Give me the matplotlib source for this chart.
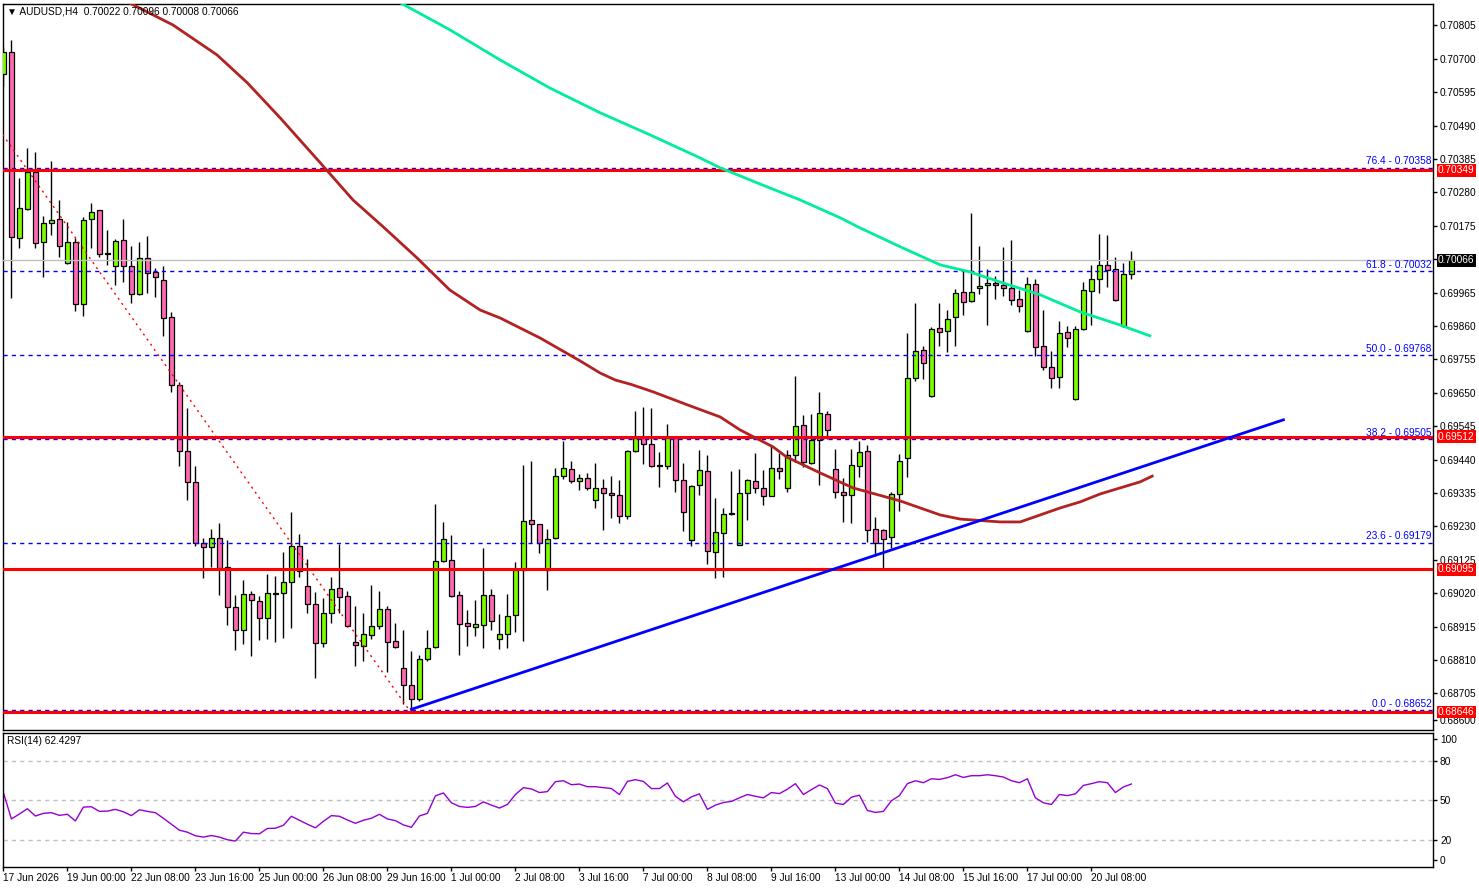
import matplotlib
matplotlib.use("Agg")
import matplotlib.pyplot as plt
import matplotlib.transforms as mtrans

plt.rcParams['font.family'] = ['Liberation Sans', 'DejaVu Sans']

# ---- data (AUDUSD H4) ----
opens = [0.70652, 0.70722, 0.70136, 0.70227, 0.70343, 0.70123, 0.70183, 0.70195, 0.70057, 0.70123,
         0.69928, 0.70195, 0.70224, 0.70087, 0.70050, 0.70130, 0.70048, 0.69960, 0.70074, 0.70029,
         0.70004, 0.69887, 0.69674, 0.69466, 0.69369, 0.69178, 0.69164, 0.69193, 0.69101, 0.68976,
         0.68903, 0.69016, 0.68995, 0.68941, 0.69018, 0.69020, 0.69054, 0.69169, 0.69042, 0.68985,
         0.68862, 0.68957, 0.69035, 0.69010, 0.68866, 0.68853, 0.68888, 0.68916, 0.68969, 0.68869,
         0.68784, 0.68733, 0.68686, 0.68812, 0.68850, 0.69120, 0.69123, 0.69013, 0.68925, 0.68915,
         0.68919, 0.69013, 0.68875, 0.68891, 0.68950, 0.69092, 0.69249, 0.69237, 0.69092, 0.69193,
         0.69388, 0.69410, 0.69372, 0.69381, 0.69312, 0.69350, 0.69334, 0.69328, 0.69264, 0.69466,
         0.69507, 0.69488, 0.69420, 0.69419, 0.69507, 0.69375, 0.69186, 0.69359, 0.69403, 0.69149,
         0.69208, 0.69268, 0.69172, 0.69334, 0.69372, 0.69350, 0.69325, 0.69413, 0.69350, 0.69454,
         0.69548, 0.69428, 0.69501, 0.69582, 0.69410, 0.69337, 0.69328, 0.69419, 0.69466, 0.69221,
         0.69219, 0.69196, 0.69332, 0.69445, 0.69696, 0.69784, 0.69639, 0.69853, 0.69843, 0.69887,
         0.69966, 0.69938, 0.69978, 0.69988, 0.69994, 0.69988, 0.69979, 0.69944, 0.69843, 0.69991,
         0.69796, 0.69730, 0.69699, 0.69840, 0.69630, 0.69850, 0.69969, 0.70007, 0.70051, 0.70038,
         0.69859, 0.70022]
highs = [0.70738, 0.70759, 0.70324, 0.70419, 0.70406, 0.70205, 0.70379, 0.70256, 0.70186, 0.70136,
         0.70202, 0.70247, 0.70225, 0.70162, 0.70134, 0.70196, 0.70111, 0.70124, 0.70143, 0.70041,
         0.70049, 0.69904, 0.69684, 0.69602, 0.69420, 0.69193, 0.69222, 0.69240, 0.69187, 0.69014,
         0.69061, 0.69027, 0.69011, 0.69079, 0.69074, 0.69150, 0.69275, 0.69205, 0.69128, 0.69023,
         0.69004, 0.69070, 0.69175, 0.69027, 0.68979, 0.68957, 0.69045, 0.69026, 0.68979, 0.68925,
         0.68903, 0.68837, 0.68825, 0.68903, 0.69300, 0.69243, 0.69202, 0.69027, 0.68967, 0.68999,
         0.69161, 0.69032, 0.68954, 0.69016, 0.69117, 0.69422, 0.69436, 0.69238, 0.69221, 0.69413,
         0.69498, 0.69436, 0.69394, 0.69397, 0.69429, 0.69378, 0.69388, 0.69375, 0.69470, 0.69592,
         0.69605, 0.69601, 0.69463, 0.69551, 0.69508, 0.69428, 0.69359, 0.69469, 0.69454, 0.69318,
         0.69287, 0.69403, 0.69410, 0.69378, 0.69460, 0.69407, 0.69485, 0.69460, 0.69469, 0.69703,
         0.69579, 0.69582, 0.69651, 0.69592, 0.69472, 0.69381, 0.69472, 0.69497, 0.69485, 0.69260,
         0.69223, 0.69338, 0.69458, 0.69839, 0.69931, 0.69798, 0.69858, 0.69931, 0.69909, 0.69975,
         0.70035, 0.70214, 0.70111, 0.70038, 0.70016, 0.70107, 0.70130, 0.69972, 0.70013, 0.70007,
         0.69909, 0.69780, 0.69875, 0.69859, 0.69859, 0.69997, 0.70051, 0.70150, 0.70145, 0.70076,
         0.70057, 0.70096]
lows = [0.70615, 0.69949, 0.70106, 0.70225, 0.70106, 0.70013, 0.70147, 0.70078, 0.70055, 0.69908,
        0.69892, 0.70104, 0.70078, 0.70052, 0.69990, 0.69999, 0.69931, 0.69958, 0.69965, 0.69952,
        0.69830, 0.69653, 0.69421, 0.69313, 0.69168, 0.69069, 0.69102, 0.69014, 0.68920, 0.68841,
        0.68861, 0.68824, 0.68874, 0.68877, 0.68867, 0.68880, 0.68911, 0.69072, 0.68959, 0.68754,
        0.68850, 0.68927, 0.68957, 0.68913, 0.68792, 0.68808, 0.68876, 0.68906, 0.68771, 0.68849,
        0.68673, 0.68652, 0.68680, 0.68806, 0.68849, 0.69117, 0.69009, 0.68826, 0.68855, 0.68886,
        0.68849, 0.68903, 0.68844, 0.68847, 0.68897, 0.68869, 0.69177, 0.69145, 0.69029, 0.69189,
        0.69378, 0.69365, 0.69344, 0.69344, 0.69287, 0.69218, 0.69255, 0.69240, 0.69252, 0.69463,
        0.69425, 0.69418, 0.69353, 0.69410, 0.69337, 0.69215, 0.69167, 0.69328, 0.69111, 0.69067,
        0.69070, 0.69265, 0.69170, 0.69249, 0.69334, 0.69296, 0.69324, 0.69378, 0.69337, 0.69432,
        0.69416, 0.69427, 0.69359, 0.69504, 0.69320, 0.69243, 0.69240, 0.69384, 0.69180, 0.69136,
        0.69098, 0.69161, 0.69277, 0.69384, 0.69686, 0.69692, 0.69638, 0.69798, 0.69777, 0.69798,
        0.69894, 0.69935, 0.69960, 0.69862, 0.69945, 0.69953, 0.69925, 0.69903, 0.69842, 0.69765,
        0.69721, 0.69664, 0.69664, 0.69793, 0.69628, 0.69848, 0.69862, 0.69963, 0.69982, 0.69940,
        0.69856, 0.70008]
closes = [0.70722, 0.70139, 0.70230, 0.70343, 0.70120, 0.70183, 0.70193, 0.70111, 0.70123, 0.69928,
          0.70193, 0.70218, 0.70086, 0.70088, 0.70126, 0.70049, 0.69960, 0.70074, 0.70026, 0.70013,
          0.69886, 0.69674, 0.69467, 0.69369, 0.69177, 0.69164, 0.69193, 0.69100, 0.68976, 0.68905,
          0.69016, 0.68998, 0.68941, 0.69020, 0.69017, 0.69054, 0.69169, 0.69089, 0.68985, 0.68862,
          0.68957, 0.69032, 0.69007, 0.68916, 0.68856, 0.68891, 0.68916, 0.68969, 0.68866, 0.68850,
          0.68730, 0.68686, 0.68812, 0.68847, 0.69120, 0.69189, 0.69012, 0.68922, 0.68918, 0.68922,
          0.69013, 0.68932, 0.68891, 0.68947, 0.69092, 0.69246, 0.69237, 0.69177, 0.69189, 0.69388,
          0.69413, 0.69372, 0.69381, 0.69350, 0.69350, 0.69334, 0.69328, 0.69264, 0.69466, 0.69507,
          0.69488, 0.69419, 0.69419, 0.69507, 0.69375, 0.69274, 0.69356, 0.69406, 0.69152, 0.69211,
          0.69268, 0.69269, 0.69334, 0.69375, 0.69350, 0.69325, 0.69413, 0.69403, 0.69454, 0.69545,
          0.69432, 0.69501, 0.69585, 0.69532, 0.69337, 0.69328, 0.69422, 0.69463, 0.69218, 0.69177,
          0.69189, 0.69332, 0.69435, 0.69696, 0.69780, 0.69743, 0.69850, 0.69840, 0.69881, 0.69963,
          0.69935, 0.69966, 0.69985, 0.69994, 0.69988, 0.69979, 0.69941, 0.69922, 0.69991, 0.69793,
          0.69730, 0.69696, 0.69837, 0.69821, 0.69850, 0.69972, 0.70007, 0.70051, 0.70035, 0.69941,
          0.70023, 0.70066]
rsi = [56.0, 36.1, 39.8, 43.8, 38.3, 40.3, 40.8, 38.8, 39.6, 34.6,
       45.0, 45.3, 41.8, 42.0, 43.3, 41.5, 38.6, 43.0, 41.8, 40.8,
       36.6, 32.1, 27.6, 26.1, 23.4, 22.4, 23.6, 22.4, 20.4, 19.4,
       26.1, 25.1, 24.9, 28.9, 29.1, 31.3, 38.1, 35.1, 32.1, 29.4,
       34.3, 38.6, 38.1, 35.3, 32.8, 35.1, 36.6, 39.6, 36.1, 34.8,
       31.6, 29.8, 38.3, 40.3, 53.5, 55.7, 48.3, 45.5, 44.8, 45.5,
       49.0, 46.5, 44.3, 47.0, 54.5, 59.7, 58.7, 56.0, 56.7, 64.2,
       64.9, 61.9, 62.4, 60.4, 60.4, 59.7, 59.0, 54.5, 64.4, 65.7,
       64.4, 59.0, 59.0, 63.2, 53.2, 49.0, 52.7, 55.0, 43.3, 46.5,
       48.5, 49.3, 52.0, 54.5, 53.2, 52.0, 56.0, 55.2, 58.5, 62.7,
       54.5, 58.2, 61.7, 59.0, 48.0, 47.0, 52.5, 54.0, 42.5, 41.0,
       41.8, 49.8, 53.7, 62.7, 64.9, 63.4, 66.4, 65.9, 67.2, 69.4,
       67.4, 68.7, 68.7, 69.4, 68.7, 67.7, 64.9, 63.4, 66.4, 52.0,
       48.3, 47.0, 54.5, 53.7, 55.0, 61.4, 62.7, 64.2, 63.4, 56.0,
       60.2, 62.43]

# moving averages (bar position, price)
ma_slow_pos = [15.0, 21.2, 26.7, 30.5, 34.6, 39.6, 43.7, 47.5, 51.7, 55.8, 59.6, 62.1, 67.1, 72.1,
               74.6, 76.5, 78.5, 81.2, 85.5, 89.6, 92.1, 96.2, 97.9, 102.1, 106.2, 112.1, 117.1,
               119.6, 124.6, 127.1, 129.6, 132.1, 134.6, 137.1, 139.6, 142.1, 143.6]
ma_slow_val = [0.70885, 0.70806, 0.70712, 0.70624, 0.70514, 0.70373, 0.70256, 0.70171, 0.70074,
               0.69973, 0.69910, 0.69885, 0.69822, 0.69750, 0.69712, 0.69690, 0.69676, 0.69653,
               0.69612, 0.69574, 0.69533, 0.69480, 0.69448, 0.69398, 0.69351, 0.69310, 0.69266,
               0.69253, 0.69244, 0.69244, 0.69266, 0.69288, 0.69307, 0.69332, 0.69351, 0.69370,
               0.69388]
ma_long_pos = [49.6, 55.8, 62.1, 68.3, 74.6, 80.8, 87.1, 89.6, 94.6, 99.6, 104.6, 107.1, 112.1,
               117.1, 120.8, 124.6, 129.6, 134.6, 139.6, 143.3]
ma_long_val = [0.70876, 0.70791, 0.70696, 0.70608, 0.70530, 0.70461, 0.70388, 0.70357, 0.70306,
               0.70256, 0.70200, 0.70168, 0.70109, 0.70052, 0.70030, 0.69998, 0.69958, 0.69904,
               0.69863, 0.69829]

trend_pos = [51.0, 160.0]
trend_val = [0.68655, 0.69565]
fib_pos = [-12.0, 50.75]
fib_val = [0.70885, 0.68652]
fib_levels = [0.0, 23.6, 38.2, 50.0, 61.8, 76.4]
fib_prices = [0.68652, 0.69179, 0.69505, 0.69768, 0.70032, 0.70358]
sr_levels = [0.70349, 0.69512, 0.69095, 0.68646]
last_price = 0.70066

price_ticks = [0.70805, 0.70700, 0.70595, 0.70490, 0.70385, 0.70280, 0.70175, 0.70070, 0.69965,
               0.69860, 0.69755, 0.69650, 0.69545, 0.69440, 0.69335, 0.69230, 0.69125, 0.69020,
               0.68915, 0.68810, 0.68705, 0.68620]
price_labels = ['0.70805', '0.70700', '0.70595', '0.70490', '0.70385', '0.70280', '0.70175',
                '0.70070', '0.69965', '0.69860', '0.69755', '0.69650', '0.69545', '0.69440',
                '0.69335', '0.69230', '0.69125', '0.69020', '0.68915', '0.68810', '0.68705',
                '0.68600']
rsi_ticks = [96.3, 80, 50, 20, 5.1]
rsi_labels = ['100', '80', '50', '20', '0']
date_pos = list(range(0, 137, 8))
date_labels = ['17 Jun 2026', '19 Jun 00:00', '22 Jun 08:00', '23 Jun 16:00', '25 Jun 00:00',
               '26 Jun 08:00', '29 Jun 16:00', '1 Jul 00:00', '2 Jul 08:00', '3 Jul 16:00',
               '7 Jul 00:00', '8 Jul 08:00', '9 Jul 16:00', '13 Jul 00:00', '14 Jul 08:00',
               '15 Jul 16:00', '17 Jul 00:00', '20 Jul 08:00']

# ---- figure ----
W, H = 1479, 888
fig = plt.figure(figsize=(W / 100, H / 100), dpi=100)
fig.patch.set_facecolor('white')
ax = fig.add_axes([3 / W, 1 - 730 / H, 1430 / W, 726 / H])
ax2 = fig.add_axes([3 / W, 1 - 867 / H, 1430 / W, 134 / H])

xmin, xmax = -0.05, 178.7
ax.set_xlim(xmin, xmax)
ax.set_ylim(0.68590, 0.70872)
ax2.set_xlim(xmin, xmax)
ax2.set_ylim(-0.15, 100.9)

FS = 7.3

# candles
idx = list(range(len(opens)))
body_bottom = [min(o, c) for o, c in zip(opens, closes)]
body_height = [max(abs(c - o), 0.00003) for o, c in zip(opens, closes)]
colors = ['#7CFC00' if c >= o else '#FF69B4' for o, c in zip(opens, closes)]
ax.vlines(idx, lows, highs, color='black', lw=1, zorder=2)
ax.bar(idx, body_height, bottom=body_bottom, width=0.55, color=colors,
       edgecolor='black', linewidth=0.9, zorder=3)

# horizontal levels
trans = mtrans.blended_transform_factory(ax.transAxes, ax.transData)
for lv, pr in zip(fib_levels, fib_prices):
    ax.axhline(pr, color='#0000FF', lw=1, ls=(0, (3, 3)), zorder=4)
    ax.text(0.999, pr + 0.00004, '{:.1f} - {:.5f}'.format(lv, pr), transform=trans,
            ha='right', va='bottom', color='#0000FF', fontsize=FS, zorder=6)
ax.axhline(last_price, color='#C0C0C0', lw=1, zorder=4)
for pr in sr_levels:
    ax.axhline(pr, color='#FF0000', lw=2.2, zorder=5)

# moving averages, trendline, fibo line
ax.plot(ma_slow_pos, ma_slow_val, color='#B22222', lw=2, zorder=5)
ax.plot(ma_long_pos, ma_long_val, color='#00EE9A', lw=2, zorder=5)
ax.plot(trend_pos, trend_val, color='#0000FF', lw=2, zorder=6)
ax.plot(fib_pos, fib_val, color='#FF0000', lw=1, ls=(0, (1.5, 3)), zorder=4)

# price axis
ax.yaxis.tick_right()
ax.set_yticks(price_ticks)
ax.set_yticklabels(price_labels, fontsize=FS)
ax.tick_params(axis='y', length=3, width=1, pad=2, colors='black')
ax.set_xticks([])
for s in ax.spines.values():
    s.set_linewidth(1)

for pr in sr_levels:
    ax.text(1.0 + 5 / 1430, pr, '{:.5f}'.format(pr), transform=trans, ha='left', va='center',
            color='white', fontsize=FS, clip_on=False, zorder=10,
            bbox=dict(boxstyle='square,pad=0.12', fc='#FF0000', ec='none'))
ax.text(1.0 + 5 / 1430, last_price, '{:.5f}'.format(last_price), transform=trans, ha='left',
        va='center', color='white', fontsize=FS, clip_on=False, zorder=10,
        bbox=dict(boxstyle='square,pad=0.12', fc='black', ec='none'))

ax.text(4 / 1430, 1 - 7 / 726, '\u25bc AUDUSD,H4  {:.5f} {:.5f} {:.5f} {:.5f}'.format(
    opens[-1], highs[-1], lows[-1], closes[-1]), transform=ax.transAxes, ha='left', va='center',
    fontsize=FS, color='black', zorder=10)

# RSI panel
for lv in [80, 50, 20]:
    ax2.axhline(lv, color='#C0C0C0', lw=1, ls=(0, (3, 3)))
ax2.plot(idx, rsi, color='#9400D3', lw=1)
ax2.yaxis.tick_right()
ax2.set_yticks(rsi_ticks)
ax2.set_yticklabels(rsi_labels, fontsize=FS)
ax2.tick_params(axis='y', length=3, width=1, pad=2)
ax2.set_xticks(date_pos)
ax2.set_xticklabels(date_labels, fontsize=FS, ha='left')
ax2.tick_params(axis='x', length=3, width=1, pad=1)
for s in ax2.spines.values():
    s.set_linewidth(1)
ax2.text(4 / 1430, 1 - 8 / 134, 'RSI(14) {:.4f}'.format(62.4297), transform=ax2.transAxes,
         ha='left', va='center', fontsize=FS)

fig.savefig('out.png', dpi=100, facecolor='white')
